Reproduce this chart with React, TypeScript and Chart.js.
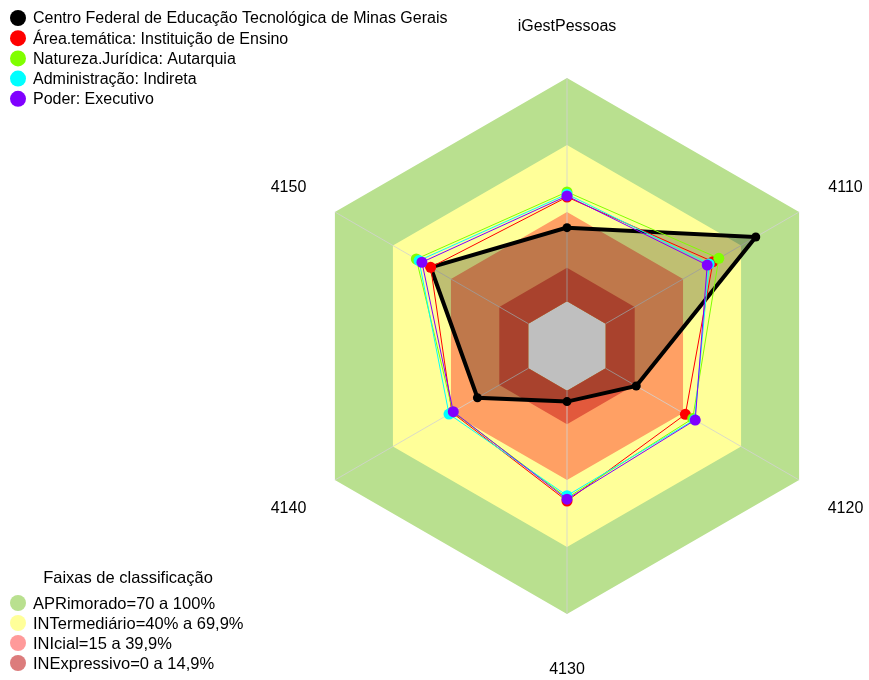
import React, { useEffect, useRef } from 'react';
import { Chart, registerables } from 'chart.js';

Chart.register(...registerables);

// ---------- data ----------
const categories = ['iGestPessoas', '4110', '4120', '4130', '4140', '4150'];

const seriesNames = [
  'Centro Federal de Educação Tecnológica de Minas Gerais',
  'Área.temática: Instituição de Ensino',
  'Natureza.Jurídica: Autarquia',
  'Administração: Indireta',
  'Poder: Executivo',
];
const cefetValues = [33, 77.6, 15.8, 4.9, 26.3, 50.5];
const areaValues = [46.7, 55.5, 41.2, 49.4, 39.5, 50.5];
const naturezaValues = [49, 58.5, 45, 48, 39, 57.9];
const administracaoValues = [48, 53.5, 46, 47, 41, 56.5];
const poderValues = [47.2, 52.5, 46.3, 48.6, 38.8, 55];
const seriesColors = ['#000000', '#FF0000', '#80FF00', '#00FFFF', '#8000FF'];

const bandTitle = 'Faixas de classificação';
const bandNames = [
  'APRimorado=70 a 100%',
  'INTermediário=40% a 69,9%',
  'INIcial=15 a 39,9%',
  'INExpressivo=0 a 14,9%',
];
const bandUpper = [100, 70, 40, 15];
const bandChartColors = ['#B9E08F', '#FFFF99', '#FFA064', '#E2593C'];
const bandLegendColors = ['#B9E08F', '#FFFF99', '#FF9A9A', '#DC7C7C'];

const scaleMin = -20;
const scaleMax = 100;

const FONT = '"Liberation Sans", Arial, sans-serif';

const seriesValues = [cefetValues, areaValues, naturezaValues, administracaoValues, poderValues];
const lastBandIndex = seriesValues.length + bandUpper.length - 1;

const overlayPlugin = {
  id: 'overlay',
  afterDatasetDraw(chart: any, args: any) {
    if (args.index !== lastBandIndex) return;
    const scale = chart.scales.r;
    const ctx = chart.ctx;
    ctx.save();
    ctx.strokeStyle = 'rgba(210,210,210,0.8)';
    ctx.lineWidth = 1;
    for (let i = 0; i < categories.length; i++) {
      const a = scale.getPointPositionForValue(i, 0);
      const b = scale.getPointPositionForValue(i, scaleMax);
      ctx.beginPath();
      ctx.moveTo(a.x, a.y);
      ctx.lineTo(b.x, b.y);
      ctx.stroke();
    }
    ctx.restore();
  },
  afterDraw(chart: any) {
    const scale = chart.scales.r;
    const ctx = chart.ctx;
    ctx.save();
    // axis labels
    ctx.font = '16px ' + FONT;
    ctx.fillStyle = '#000';
    ctx.textAlign = 'center';
    ctx.textBaseline = 'middle';
    categories.forEach((c, i) => {
      const p = scale.getPointPosition(i, scale.drawingArea * 1.2);
      ctx.fillText(c, p.x, p.y + 2);
    });
    // series legend
    ctx.textAlign = 'left';
    seriesNames.forEach((name, i) => {
      const y = 18 + i * 20.2;
      ctx.fillStyle = seriesColors[i];
      ctx.beginPath();
      ctx.arc(18, y, 8, 0, Math.PI * 2);
      ctx.fill();
      ctx.fillStyle = '#000';
      ctx.fillText(name, 33, y + 1);
    });
    // band legend
    ctx.font = '16.5px ' + FONT;
    ctx.textAlign = 'center';
    ctx.fillText(bandTitle, 128, 578);
    ctx.textAlign = 'left';
    bandNames.forEach((name, i) => {
      const y = 603 + i * 20;
      ctx.fillStyle = bandLegendColors[i];
      ctx.beginPath();
      ctx.arc(18, y, 8, 0, Math.PI * 2);
      ctx.fill();
      ctx.fillStyle = '#000';
      ctx.fillText(name, 33, y + 1);
    });
    ctx.restore();
  },
};

export default function App() {
  const ref = useRef<HTMLCanvasElement>(null);
  useEffect(() => {
    const datasets: any[] = [
      ...seriesValues.map((vals, i) => ({
        label: seriesNames[i],
        data: vals,
        order: 5 - i,
        borderColor: seriesColors[i],
        backgroundColor: i === 0 ? 'rgba(0,0,0,0.25)' : 'rgba(0,0,0,0)',
        fill: i === 0 ? 'start' : false,
        borderWidth: i === 0 ? 4 : 1,
        pointRadius: i === 0 ? 4.5 : 5.5,
        pointBackgroundColor: seriesColors[i],
        pointBorderColor: seriesColors[i],
        pointBorderWidth: 0,
      })),
      ...bandUpper.map((lvl, j) => ({
        label: bandNames[j],
        data: categories.map(() => lvl),
        order: 10 - j,
        fill: { value: 0 },
        backgroundColor: bandChartColors[j],
        borderColor: 'rgba(0,0,0,0)',
        borderWidth: 0,
        pointRadius: 0,
      })),
    ];
    const chart = new Chart(ref.current as HTMLCanvasElement, {
      type: 'radar',
      data: { labels: categories, datasets },
      options: {
        responsive: false,
        animation: false,
        devicePixelRatio: 1,
        events: [],
        layout: { padding: { left: 299, right: 34, top: 78, bottom: 66 } },
        plugins: { legend: { display: false }, title: { display: false }, tooltip: { enabled: false } },
        scales: {
          r: {
            min: scaleMin,
            max: scaleMax,
            ticks: { display: false },
            grid: { display: false },
            angleLines: { display: false },
            pointLabels: { display: false },
          },
        },
      } as any,
      plugins: [overlayPlugin],
    });
    return () => chart.destroy();
  }, []);
  return (
    <div style={{ position: 'absolute', left: 0, top: 0, width: 869, height: 680, background: '#fff' }}>
      <canvas ref={ref} width={869} height={680} style={{ display: 'block', width: 869, height: 680 }} />
    </div>
  );
}
